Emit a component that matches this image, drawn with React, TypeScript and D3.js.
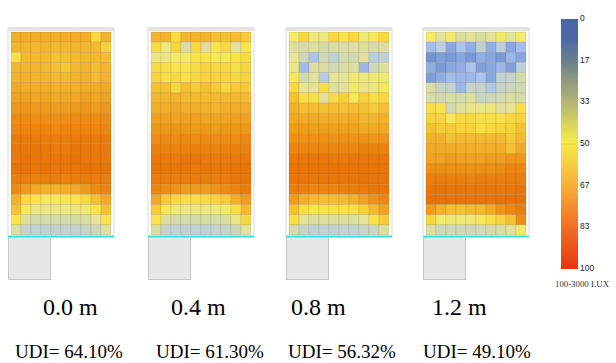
import React from "react";
import * as d3 from "d3";

// heights of the work plane
const heights = ["0.0 m", "0.4 m", "0.8 m", "1.2 m"];
const udiValues = ["64.10%", "61.30%", "56.32%", "49.10%"];

// UDI (100-3000 lux) % per sensor point, 20 rows x 10 columns, top row = far from window
const udi00 = [
  [67, 67, 67, 67, 67, 67, 67, 67, 56, 66],
  [65, 65, 64, 65, 64, 64, 65, 64, 64, 58],
  [54, 64, 64, 64, 62, 62, 64, 64, 64, 63],
  [65, 65, 65, 64, 62, 61, 64, 65, 63, 65],
  [66, 66, 65, 65, 64, 64, 65, 66, 64, 66],
  [68, 67, 67, 67, 66, 66, 66, 67, 67, 68],
  [70, 70, 69, 69, 68, 68, 69, 70, 69, 70],
  [73, 73, 72, 72, 71, 71, 72, 73, 72, 73],
  [76, 76, 75, 75, 75, 75, 76, 76, 76, 76],
  [78, 78, 78, 78, 77, 78, 78, 78, 78, 78],
  [81, 81, 81, 80, 80, 80, 81, 81, 81, 81],
  [82, 82, 82, 82, 81, 81, 82, 82, 82, 82],
  [82, 83, 82, 82, 82, 82, 83, 82, 82, 82],
  [83, 83, 82, 83, 82, 82, 82, 83, 83, 83],
  [80, 80, 79, 80, 80, 79, 80, 80, 81, 81],
  [76, 72, 68, 66, 66, 67, 68, 72, 76, 78],
  [66, 56, 52, 50, 50, 51, 52, 56, 62, 68],
  [62, 50, 44, 44, 44, 45, 45, 47, 52, 62],
  [52, 38, 34, 34, 34, 34, 35, 37, 42, 52],
  [36, 26, 24, 24, 24, 25, 25, 27, 30, 38],
];

const udi04 = [
  [65, 65, 55, 65, 65, 65, 63, 62, 63, 60],
  [55, 45, 57, 36, 56, 38, 52, 56, 40, 52],
  [45, 45, 48, 48, 52, 52, 50, 50, 52, 55],
  [55, 54, 52, 52, 55, 57, 56, 56, 54, 57],
  [57, 54, 56, 54, 56, 58, 58, 57, 56, 58],
  [62, 62, 56, 62, 60, 62, 60, 57, 60, 60],
  [65, 65, 65, 64, 64, 63, 64, 64, 64, 64],
  [67, 67, 68, 67, 66, 66, 65, 66, 67, 67],
  [70, 70, 70, 70, 70, 69, 69, 69, 70, 70],
  [73, 73, 74, 73, 72, 73, 72, 73, 73, 73],
  [76, 76, 76, 77, 76, 76, 76, 76, 76, 77],
  [79, 79, 79, 79, 79, 79, 79, 79, 79, 79],
  [81, 81, 81, 82, 82, 81, 81, 81, 81, 81],
  [82, 82, 82, 82, 81, 82, 82, 82, 83, 83],
  [81, 81, 81, 81, 81, 80, 81, 81, 82, 83],
  [78, 76, 74, 72, 72, 72, 74, 76, 78, 80],
  [68, 60, 56, 54, 54, 55, 57, 60, 66, 72],
  [60, 50, 46, 45, 45, 45, 46, 48, 54, 64],
  [52, 38, 34, 34, 34, 35, 35, 37, 44, 56],
  [36, 26, 24, 24, 24, 24, 25, 27, 30, 40],
];

const udi08 = [
  [48, 56, 45, 45, 56, 52, 56, 46, 50, 56],
  [38, 35, 38, 34, 36, 36, 38, 38, 35, 38],
  [42, 30, 16, 32, 24, 34, 32, 40, 20, 24],
  [44, 13, 38, 36, 32, 36, 38, 12, 30, 38],
  [50, 32, 40, 20, 42, 42, 46, 45, 46, 46],
  [56, 42, 42, 54, 38, 40, 48, 44, 46, 50],
  [62, 54, 54, 40, 55, 58, 50, 58, 54, 56],
  [66, 63, 63, 62, 63, 62, 63, 62, 60, 62],
  [69, 68, 68, 67, 67, 67, 67, 65, 65, 66],
  [72, 72, 71, 71, 71, 71, 70, 68, 68, 69],
  [75, 75, 75, 75, 74, 75, 74, 74, 73, 74],
  [78, 78, 78, 78, 78, 78, 78, 79, 79, 79],
  [82, 82, 82, 82, 81, 81, 82, 82, 82, 83],
  [83, 83, 83, 83, 83, 83, 83, 83, 83, 84],
  [83, 83, 82, 82, 82, 83, 83, 84, 84, 84],
  [80, 79, 78, 78, 78, 79, 80, 81, 82, 83],
  [72, 66, 64, 63, 63, 64, 66, 70, 74, 78],
  [62, 54, 52, 52, 53, 53, 54, 58, 64, 70],
  [54, 40, 38, 38, 38, 38, 38, 42, 52, 60],
  [34, 26, 24, 24, 24, 25, 25, 27, 30, 38],
];

const udi12 = [
  [48, 40, 48, 36, 40, 36, 40, 48, 40, 48],
  [14, 22, 8, 16, 10, 24, 10, 22, 8, 14],
  [2, 6, 4, 8, 4, 10, 8, 4, 12, 8],
  [10, 4, 8, 10, 16, 6, 8, 12, 6, 22],
  [6, 10, 14, 12, 12, 16, 8, 24, 26, 34],
  [36, 28, 26, 12, 26, 26, 18, 26, 30, 32],
  [36, 32, 36, 34, 38, 28, 30, 32, 36, 34],
  [54, 52, 32, 40, 44, 44, 46, 40, 42, 54],
  [58, 58, 50, 56, 56, 54, 54, 54, 56, 58],
  [62, 60, 60, 58, 58, 54, 56, 58, 58, 62],
  [66, 66, 62, 64, 64, 64, 64, 64, 60, 64],
  [68, 68, 68, 67, 67, 67, 67, 67, 62, 68],
  [70, 70, 71, 70, 70, 70, 71, 71, 73, 73],
  [75, 75, 75, 75, 75, 75, 75, 76, 78, 78],
  [80, 80, 80, 80, 79, 80, 80, 80, 80, 80],
  [83, 83, 83, 83, 82, 82, 82, 82, 82, 83],
  [84, 84, 84, 83, 83, 83, 83, 84, 85, 85],
  [72, 66, 63, 62, 64, 64, 68, 74, 78, 80],
  [56, 48, 46, 46, 46, 50, 54, 58, 62, 76],
  [36, 30, 30, 30, 30, 32, 34, 36, 40, 48],
];

const grids = [udi00, udi04, udi08, udi12];

const legendTicks = [0, 100 / 6, 200 / 6, 50, 400 / 6, 500 / 6, 100];

const W = 616;
const H = 363;

// colour ramp of the cells
const cellColor = d3
  .scaleLinear<string>()
  .domain([0, 8, 15, 22, 28, 35, 42, 48, 52, 58, 64, 70, 76, 82, 88])
  .range([
    "#6d8ccb", "#88a6e0", "#a9c2ee", "#bccfdc", "#c9d5c4", "#d6dca6",
    "#e6e496", "#f2ea6a", "#f9e44c", "#f7d23c", "#f3b930", "#f0a222",
    "#ed8c14", "#e9770a", "#e66c06",
  ])
  .clamp(true);

// colour ramp of the legend bar
const legendStops = [
  [0, "#4a66a8"], [0.08, "#4c69a6"], [0.17, "#6e7f8c"], [0.33, "#b3b474"],
  [0.495, "#f7ec48"], [0.5, "#e6d840"], [0.505, "#f7e846"], [0.67, "#f6ae38"],
  [0.83, "#f07028"], [1, "#e8330e"],
];

const panelX = d3.scaleLinear().domain([0, 3]).range([11, 426]);
const labelX = [43, 171, 291, 432];
const udiX = [15, 156, 288, 423];

const cols = d3.range(10);
const rows = d3.range(20);
const x = d3.scaleBand<number>().domain(cols).range([0, 100]);
const y = d3.scaleBand<number>().domain(rows).range([32, 235]);
const legendY = d3.scaleLinear().domain([0, 100]).range([19, 269]);

function Panel({ data, i }: { data: number[][]; i: number }) {
  const gx = i === 1 ? 151 : i === 2 ? 289 : panelX(i);
  const fx = gx - 3;
  return (
    <g>
      <rect x={fx} y={28} width={106} height={209} fill="#fff" stroke="#d9d9d9" strokeWidth={1} />
      <rect x={fx} y={27} width={106} height={4} fill="#e3e3e3" />
      {rows.map((r) =>
        cols.map((c) => (
          <rect
            key={r + "-" + c}
            x={gx + x(c)!}
            y={y(r)!}
            width={x.bandwidth()}
            height={y.bandwidth()}
            fill={cellColor(data[r][c])}
            stroke="rgba(90,60,20,0.18)"
            strokeWidth={0.6}
          />
        ))
      )}
      <line x1={fx} x2={fx + 106} y1={236.5} y2={236.5} stroke="#33e4e8" strokeWidth={2} />
      <rect x={fx + 0.5} y={237.5} width={42} height={42} fill="#e7e7e7" stroke="#c6c6c6" />
    </g>
  );
}

export default function App() {
  return (
    <svg
      width={W}
      height={H}
      style={{ position: "absolute", left: 0, top: 0, background: "#fff" }}
    >
      <defs>
        <linearGradient id="lg" x1="0" x2="0" y1="0" y2="1">
          {legendStops.map(([o, c], k) => (
            <stop key={k} offset={o as number} stopColor={c as string} />
          ))}
        </linearGradient>
      </defs>
      {grids.map((g, i) => (
        <Panel key={i} data={g} i={i} />
      ))}
      {heights.map((h, i) => (
        <text key={h} x={labelX[i]} y={315} fontFamily="Liberation Serif" fontSize={24} fill="#000">
          {h}
        </text>
      ))}
      {udiValues.map((u, i) => (
        <text key={u} x={udiX[i]} y={358} fontFamily="Liberation Serif" fontSize={19} fill="#000">
          {"UDI= " + u}
        </text>
      ))}
      <rect x={561} y={legendY(0)} width={17} height={legendY(100) - legendY(0)} fill="url(#lg)" />
      {legendTicks.map((t) => (
        <text
          key={t}
          x={580}
          y={legendY(t) + 2}
          fontFamily="Liberation Sans"
          fontSize={8.5}
          fill="#222"
        >
          {Math.round(t)}
        </text>
      ))}
      <text x={555} y={287} fontFamily="Liberation Serif" fontSize={8.8} fill="#333">
        100-3000 LUX
      </text>
    </svg>
  );
}
